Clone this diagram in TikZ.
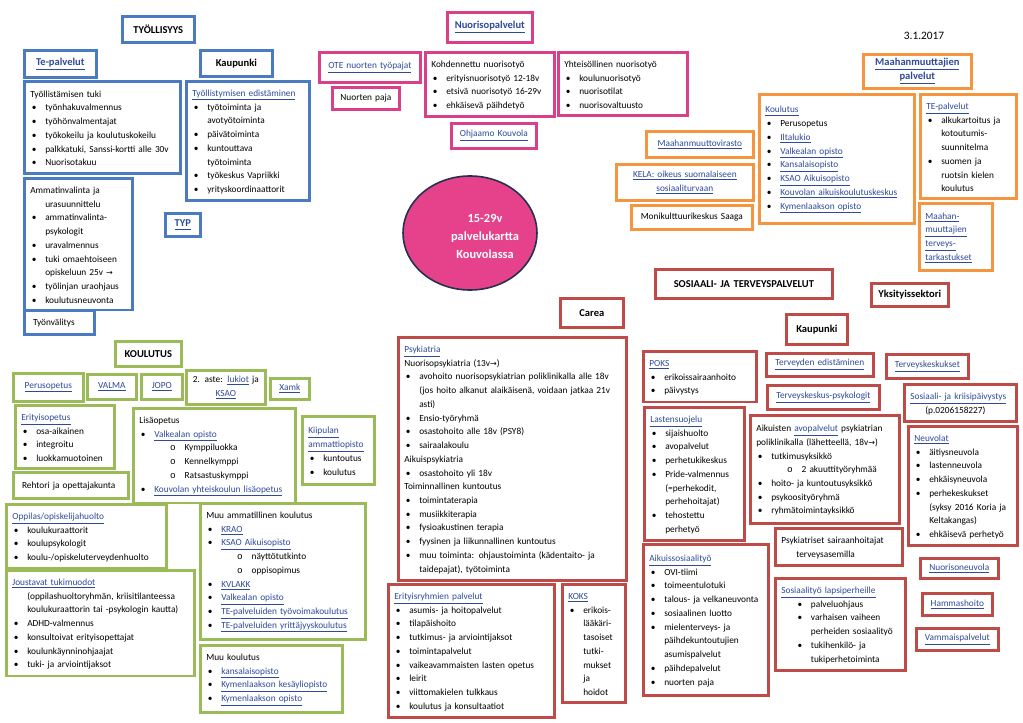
\documentclass[tikz,border=0pt]{standalone}
\usepackage{fontspec}
\setmainfont{Carlito}
\setmonofont{Liberation Mono}
\newfontfamily\symf{DejaVu Sans}
\usetikzlibrary{shapes.geometric}
\definecolor{tyo}{HTML}{4A7BC0}
\definecolor{nuo}{HTML}{DA3F8A}
\definecolor{maa}{HTML}{F5953F}
\definecolor{kou}{HTML}{9BBB59}
\definecolor{sot}{HTML}{BE4B48}
\definecolor{lnk}{HTML}{2F4A99}
\definecolor{core}{HTML}{E6428C}
\definecolor{rim}{HTML}{26304F}
\newcommand\lk[1]{\textcolor{lnk}{\underline{#1}}}
\newcommand\rarr{{\symf\fontsize{6}{10.3}\selectfont →}}
\newcommand\Lp[1]{\par\noindent\mbox{#1}}
\newcommand\Lb[2][0pt]{\par\noindent\mbox{\hspace*{#1}\hspace*{1.2pt}\makebox[10pt][l]{\textbullet}#2}}
\newcommand\Lc[2][0pt]{\par\noindent\mbox{\hspace*{#1}\hspace*{11.2pt}#2}}
\newcommand\Ls[1]{\par\noindent\mbox{\hspace*{23pt}\makebox[11pt][l]{\texttt{o}}#1}}
\tikzset{
  basebox/.style = {draw=#1, line width=2pt, fill=white, anchor=north west,
    inner xsep=4.5pt, inner ysep=1pt, align=left, font=\fontsize{7}{10.3}\selectfont},
  listbox/.style = {basebox=#1, execute at end node={\par\vspace{4pt}}},
  midbox/.style = {basebox=#1, align=center},
  headbox/.style = {basebox=#1, align=center, font=\fontsize{7.9}{10.5}\selectfont\bfseries},
  sz/.style 2 args = {/utils/exec={\pgfmathsetlengthmacro\bw{#1*0.75pt}%
    \pgfmathsetlengthmacro\bt{#1*0.75pt-9pt}\pgfmathsetlengthmacro\bh{#2*0.75pt}},
    minimum width=\bw, text width=\bt, minimum height=\bh}
}
\begin{document}
\begin{tikzpicture}[x=0.75pt, y=-0.75pt]
\fill[white] (0,0) rectangle (1023,723);
% tyollisyys
\node[headbox=tyo, sz={72}{26}] (tyo) at (121,15) {TYÖLLISYYS};
\node[headbox=tyo, sz={72}{27}] (tepal) at (23,49) {\lk{Te-palvelut}};
\node[headbox=tyo, sz={72}{26}] (kaup1) at (199,49) {Kaupunki};
\node[listbox=tyo, sz={156}{92}] (tuki) at (23,80) {\Lp{Työllistämisen tuki}\Lb{työnhakuvalmennus}\Lb{työhönvalmentajat}\Lb{työkokeilu ja koulutuskokeilu}\Lb{palkkatuki, Sanssi-kortti alle 30v}\Lb{Nuorisotakuu}};
\node[listbox=tyo, sz={123}{118}] (edist) at (185,80) {\Lp{\lk{Työllistymisen edistäminen}}\Lb{työtoiminta ja}\Lc{avotyötoiminta}\Lb{päivätoiminta}\Lb{kuntouttava}\Lc{työtoiminta}\Lb{työkeskus Vapriikki}\Lb{yrityskoordinaattorit}};
\node[listbox=tyo, sz={108}{128}] (ammat) at (23,177) {\Lp{Ammatinvalinta ja}\Lc{urasuunnittelu}\Lb{ammatinvalinta-}\Lc{psykologit}\Lb{uravalmennus}\Lb{tuki omaehtoiseen}\Lc{opiskeluun 25v \rarr}\Lb{työlinjan uraohjaus}\Lb{koulutusneuvonta}};
\node[headbox=tyo, sz={35}{23}] (typ) at (164,212) {\lk{TYP}};
\node[listbox=tyo, sz={70}{24}] (valit) at (23,309) {\Lp{\hspace*{2pt}Työnvälitys}};
% nuoriso
\node[headbox=nuo, sz={85}{30}] (nuopal) at (446,11) {\lk{Nuorisopalvelut}};
\node[midbox=nuo, sz={101}{30}] (ote) at (318,51) {\lk{OTE nuorten työpajat}};
\node[midbox=nuo, sz={67}{22}] (paja) at (331,86) {Nuorten paja};
\node[listbox=nuo, sz={129}{62}] (kohd) at (424,51) {\Lp{Kohdennettu nuorisotyö}\Lb{erityisnuorisotyö 12-18v}\Lb{etsivä nuorisotyö 16-29v}\Lb{ehkäisevä päihdetyö}};
\node[listbox=nuo, sz={129}{62}] (yhteis) at (557,51) {\Lp{Yhteisöllinen nuorisotyö}\Lb{koulunuorisotyö}\Lb{nuorisotilat}\Lb{nuorisovaltuusto}};
\node[midbox=nuo, sz={85}{25}] (ohjaamo) at (450,122) {\lk{Ohjaamo Kouvola}};
\node[ellipse, draw=rim, line width=1.2pt, fill=core, minimum width=134*0.75pt, minimum height=114*0.75pt] (core) at (470,233) {};
\node[text=white, align=center, font=\fontsize{9.3}{13.5}\selectfont\bfseries] (coretxt) at (485,236) {15-29v\\palvelukartta\\Kouvolassa};
% maahanmuuttajat
\node[font=\fontsize{8.5}{10}\selectfont] (pvm) at (924,36) {3.1.2017};
\node[headbox=maa, sz={108}{34}] (mpal) at (862,53) {\lk{Maahanmuuttajien}\\\lk{palvelut}};
\node[listbox=maa, sz={155}{129}] (mkoul) at (758,93) {\Lp{\lk{Koulutus}}\Lb{Perusopetus}\Lb{\lk{Iltalukio}}\Lb{\lk{Valkealan opisto}}\Lb{\lk{Kansalaisopisto}}\Lb{\lk{KSAO Aikuisopisto}}\Lb{\lk{Kouvolan aikuiskoulutuskeskus}}\Lb{\lk{Kymenlaakson opisto}}};
\node[listbox=maa, sz={96}{102}] (mte) at (919,93) {\Lp{\lk{TE-palvelut}}\Lb{alkukartoitus ja}\Lc{kotoutumis-}\Lc{suunnitelma}\Lb{suomen ja}\Lc{ruotsin kielen}\Lc{koulutus}};
\node[midbox=maa, sz={107}{26}] (migri) at (645,130) {\lk{Maahanmuuttovirasto}};
\node[midbox=maa, sz={137}{36}] (kela) at (615,163) {\lk{KELA: oikeus suomalaiseen}\\\lk{sosiaaliturvaan}};
\node[midbox=maa, sz={121}{24}] (saaga) at (630,204) {Monikulttuurikeskus Saaga};
\node[listbox=maa, sz={73}{67}] (mterv) at (918,202) {\Lp{\lk{Maahan-}}\Lp{\lk{muuttajien}}\Lp{\lk{terveys-}}\Lp{\lk{tarkastukset}}};
% koulutus
\node[headbox=kou, sz={66}{25}] (koul) at (114,340) {KOULUTUS};
\node[midbox=kou, sz={70}{28}] (perus) at (12,372) {\lk{Perusopetus}};
\node[midbox=kou, sz={49}{25}] (valma) at (86,373) {\lk{VALMA}};
\node[midbox=kou, sz={41}{25}] (jopo) at (140,373) {\lk{JOPO}};
\node[midbox=kou, sz={79}{34}] (aste) at (185,369) {2. aste: \lk{lukiot} ja\\\lk{KSAO}};
\node[midbox=kou, sz={39}{21}] (xamk) at (269,377) {\lk{Xamk}};
\node[listbox=kou, sz={99}{63}] (erit) at (14,404) {\Lp{\lk{Erityisopetus}}\Lb{osa-aikainen}\Lb{integroitu}\Lb{luokkamuotoinen}};
\node[listbox=kou, sz={162}{89}] (lisa) at (132,407) {\Lp{Lisäopetus}\Lb{\lk{Valkealan opisto}}\Ls{Kymppiluokka}\Ls{Kennelkymppi}\Ls{Ratsastuskymppi}\Lb{\lk{Kouvolan yhteiskoulun lisäopetus}}};
\node[listbox=kou, sz={72}{68}] (kiip) at (301,415) {\Lp{\lk{Kiipulan}}\Lp{\lk{ammattiopisto}}\Lb{kuntoutus}\Lb{koulutus}};
\node[listbox=kou, sz={115}{26}] (rehtori) at (12,471) {\Lp{\hspace*{2pt}Rehtori ja opettajakunta}};
\node[listbox=kou, sz={160}{61}] (huolto) at (5,503) {\Lp{\lk{Oppilas/opiskelijahuolto}}\Lb{koulukuraattorit}\Lb{koulupsykologit}\Lb{koulu-/opiskeluterveydenhuolto}};
\node[listbox=kou, sz={188}{103}] (jous) at (5,569) {\Lp{\lk{Joustavat tukimuodot}}\Lc{(oppilashuoltoryhmän, kriisitilanteessa}\Lc{koulukuraattorin tai -psykologin kautta)}\Lb{ADHD-valmennus}\Lb{konsultoivat erityisopettajat}\Lb{koulunkäynninohjaajat}\Lb{tuki- ja arviointijaksot}};
\node[listbox=kou, sz={165}{134}] (muuam) at (199,502) {\Lp{Muu ammatillinen koulutus}\Lb{\lk{KRAO}}\Lb{\lk{KSAO Aikuisopisto}}\Ls{näyttötutkinto}\Ls{oppisopimus}\Lb{\lk{KVLAKK}}\Lb{\lk{Valkealan opisto}}\Lb{\lk{TE-palveluiden työvoimakoulutus}}\Lb{\lk{TE-palveluiden yrittäjyyskoulutus}}};
\node[listbox=kou, sz={142}{63}] (muuk) at (199,644) {\Lp{Muu koulutus}\Lb{\lk{kansalaisopisto}}\Lb{\lk{Kymenlaakson kesäyliopisto}}\Lb{\lk{Kymenlaakson opisto}}};
% sosiaali- ja terveyspalvelut
\node[headbox=sot, sz={177}{29}] (sote) at (654,268) {SOSIAALI- JA TERVEYSPALVELUT};
\node[headbox=sot, sz={77}{23}] (yksit) at (870,282) {Yksityissektori};
\node[headbox=sot, sz={63}{29}] (carea) at (559,297) {Carea};
\node[listbox=sot, sz={228}{240}] (psyk) at (397,336) {\Lp{\lk{Psykiatria}}\Lp{Nuorisopsykiatria (13v\rarr)}\Lb{avohoito nuorisopsykiatrian poliklinikalla alle 18v}\Lc{(jos hoito alkanut alaikäisenä, voidaan jatkaa 21v}\Lc{asti)}\Lb{Ensio-työryhmä}\Lb{osastohoito alle 18v (PSY8)}\Lb{sairaalakoulu}\Lp{Aikuispsykiatria}\Lb{osastohoito yli 18v}\Lp{Toiminnallinen kuntoutus}\Lb{toimintaterapia}\Lb{musiikkiterapia}\Lb{fysioakustinen terapia}\Lb{fyysinen ja liikunnallinen kuntoutus}\Lb{muu toiminta: ohjaustoiminta (kädentaito- ja}\Lc{taidepajat), työtoiminta}};
\node[listbox=sot, sz={166}{130}] (erry) at (387,583) {\Lp{\lk{Erityisryhmien palvelut}}\Lb{asumis- ja hoitopalvelut}\Lb{tilapäishoito}\Lb{tutkimus- ja arviointijaksot}\Lb{toimintapalvelut}\Lb{vaikeavammaisten lasten opetus}\Lb{leirit}\Lb{viittomakielen tulkkaus}\Lb{koulutus ja konsultaatiot}};
\node[listbox=sot, sz={63}{118}] (koks) at (561,583) {\Lp{\lk{KOKS}}\Lb{erikois-}\Lc{lääkäri-}\Lc{tasoiset}\Lc{tutki-}\Lc{mukset}\Lc{ja}\Lc{hoidot}};
\node[headbox=sot, sz={61}{30}] (kaup2) at (785,313) {Kaupunki};
\node[listbox=sot, sz={113}{47}] (poks) at (642,350) {\Lp{\lk{POKS}}\Lb{erikoissairaanhoito}\Lb{päivystys}};
\node[midbox=sot, sz={107}{23}] (tedist) at (765,352) {\lk{Terveyden edistäminen}};
\node[midbox=sot, sz={82}{24}] (tkesk) at (885,353) {\lk{Terveyskeskukset}};
\node[midbox=sot, sz={112}{24}] (tkpsy) at (766,384) {\lk{Terveyskeskus-psykologit}};
\node[listbox=sot, sz={112}{33}] (kriisi) at (903,383) {\Lp{\lk{Sosiaali- ja kriisipäivystys}}\Lc{(p.0206158227)}};
\node[listbox=sot, sz={100}{132}] (lasu) at (643,406) {\Lp{\lk{Lastensuojelu}}\Lb{sijaishuolto}\Lb{avopalvelut}\Lb{perhetukikeskus}\Lb{Pride-valmennus}\Lc{(=perhekodit,}\Lc{perhehoitajat)}\Lb{tehostettu}\Lc{perhetyö}};
\node[listbox=sot, sz={149}{108}] (aikpsy) at (749,414) {\Lp{Aikuisten \lk{avopalvelut} psykiatrian}\Lp{poliklinikalla (lähetteellä, 18v\rarr)}\Lb{tutkimusyksikkö}\Ls{2 akuuttityöryhmää}\Lb{hoito- ja kuntoutusyksikkö}\Lb{psykoosityöryhmä}\Lb{ryhmätoimintayksikkö}};
\node[listbox=sot, sz={109}{118}] (neuv) at (907,425) {\Lp{\lk{Neuvolat}}\Lb{äitiysneuvola}\Lb{lastenneuvola}\Lb{ehkäisyneuvola}\Lb{perhekeskukset}\Lc{(syksy 2016 Koria ja}\Lc{Keltakangas)}\Lb{ehkäisevä perhetyö}};
\node[listbox=sot, sz={127}{36}] (psyhoit) at (774,527) {\Lp{Psykiatriset sairaanhoitajat}\Lc{terveysasemilla}};
\node[listbox=sot, sz={125}{151}] (aiksos) at (642,543) {\Lp{\lk{Aikuissosiaalityö}}\Lb{OVI-tiimi}\Lb{toimeentulotuki}\Lb{talous- ja velkaneuvonta}\Lb{sosiaalinen luotto}\Lb{mielenterveys- ja}\Lc{päihdekuntoutujien}\Lc{asumispalvelut}\Lb{päihdepalvelut}\Lb{nuorten paja}};
\node[midbox=sot, sz={78}{20}] (nuoneu) at (919,557) {\lk{Nuorisoneuvola}};
\node[listbox=sot, sz={130}{90}] (lapsip) at (774,577) {\Lp{\lk{Sosiaalityö lapsiperheille}}\Lb[11pt]{palveluohjaus}\Lb[11pt]{varhaisen vaiheen}\Lc[11pt]{perheiden sosiaalityö}\Lb[11pt]{tukihenkilö- ja}\Lc[11pt]{tukiperhetoiminta}};
\node[midbox=sot, sz={70}{22}] (hamm) at (921,592) {\lk{Hammashoito}};
\node[midbox=sot, sz={82}{22}] (vamm) at (915,627) {\lk{Vammaispalvelut}};
\end{tikzpicture}
\end{document}
